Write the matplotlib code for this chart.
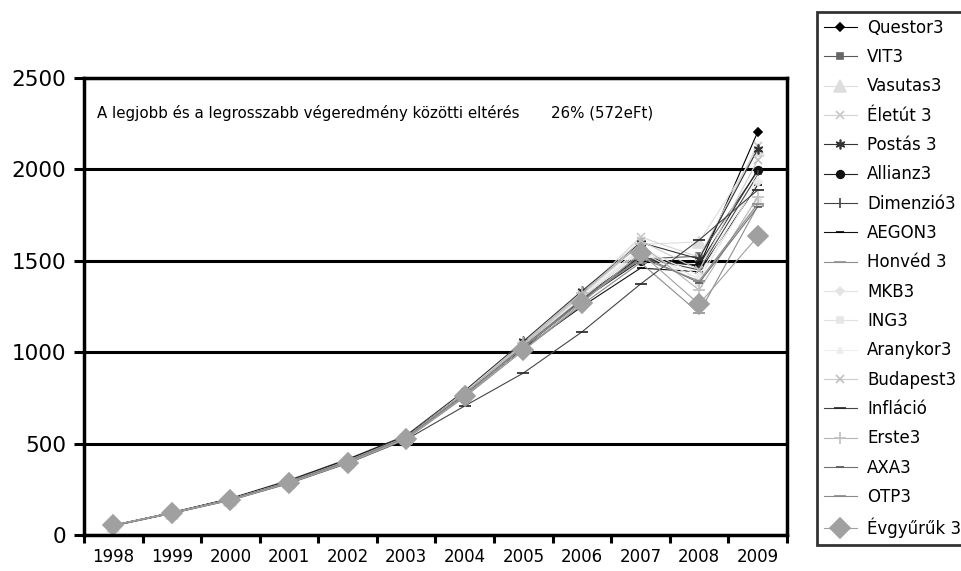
import numpy as np
import matplotlib.pyplot as plt
from matplotlib.ticker import FixedLocator, NullFormatter

years = ["1998", "1999", "2000", "2001", "2002", "2003",
         "2004", "2005", "2006", "2007", "2008", "2009"]

questor = [52, 121, 196, 290, 405, 538, 775, 1040, 1300, 1520, 1470, 2205]
vit = [53, 122, 197, 292, 408, 535, 770, 1035, 1290, 1510, 1525, 1990]
vasutas = [50, 118, 192, 288, 400, 530, 765, 1030, 1310, 1590, 1603, 2106]
eletut = [51, 120, 195, 289, 402, 533, 772, 1045, 1320, 1630, 1520, 2130]
postas = [53, 123, 200, 300, 415, 545, 790, 1060, 1335, 1600, 1510, 2111]
allianz = [52, 121, 196, 291, 406, 536, 768, 1030, 1285, 1500, 1477, 1997]
dimenzio = [52, 120, 194, 287, 400, 528, 760, 1025, 1280, 1520, 1450, 1970]
aegon = [53, 122, 198, 295, 412, 540, 775, 1020, 1250, 1460, 1440, 1915]
honved = [51, 119, 193, 286, 398, 525, 755, 1010, 1260, 1490, 1214, 1800]
mkb = [52, 121, 195, 289, 403, 532, 765, 1035, 1300, 1560, 1400, 1930]
ing = [51, 120, 194, 288, 401, 530, 762, 1030, 1295, 1550, 1380, 1820]
aranykor = [50, 119, 193, 287, 400, 529, 763, 1028, 1305, 1570, 1420, 1950]
budapest = [51, 120, 195, 290, 404, 534, 770, 1040, 1315, 1610, 1450, 2050]
inflacio = [50, 118, 190, 282, 392, 522, 706, 886, 1111, 1373, 1614, 1887]
erste = [52, 121, 196, 292, 407, 537, 778, 1050, 1325, 1590, 1340, 1850]
axa = [52, 120, 195, 289, 403, 533, 768, 1032, 1290, 1530, 1380, 1795]
otp = [51, 119, 194, 287, 401, 531, 762, 1028, 1280, 1515, 1390, 1810]
evgyuruk = [55, 120, 191, 284, 394, 525, 760, 1012, 1270, 1543, 1263, 1633]

# name, values, line colour, marker, marker colour, marker size
series = [
    ("Questor3", questor, "#000000", "D", "#000000", 4.5),
    ("VIT3", vit, "#5a5a5a", "s", "#666666", 5),
    ("Vasutas3", vasutas, "#dddddd", "^", "#dddddd", 8),
    ("Életút 3", eletut, "#d4d4d4", "x", "#c8c8c8", 6),
    ("Postás 3", postas, "#333333", (6, 2, 0), "#333333", 7),
    ("Allianz3", allianz, "#222222", "o", "#111111", 5.5),
    ("Dimenzió3", dimenzio, "#444444", "|", "#444444", 7),
    ("AEGON3", aegon, "#111111", "_", "#000000", 6),
    ("Honvéd 3", honved, "#8c8c8c", "_", "#909090", 9),
    ("MKB3", mkb, "#e2e2e2", "D", "#e4e4e4", 4),
    ("ING3", ing, "#e2e2e2", "s", "#e6e6e6", 5),
    ("Aranykor3", aranykor, "#eeeeee", "^", "#ededed", 5),
    ("Budapest3", budapest, "#cccccc", "x", "#c0c0c0", 6),
    ("Infláció", inflacio, "#444444", "_", "#222222", 8),
    ("Erste3", erste, "#b4b4b4", "+", "#c0c0c0", 9),
    ("AXA3", axa, "#707070", "_", "#555555", 6),
    ("OTP3", otp, "#8a8a8a", "_", "#888888", 8),
    ("Évgyűrűk 3", evgyuruk, "#a0a0a0", "D", "#a0a0a0", 10.5),
]

plt.rcParams["font.family"] = ["DejaVu Sans"]

fig = plt.figure(figsize=(9.62, 5.71), dpi=100)
ax = fig.add_axes([84 / 962, 1 - 535 / 571, (787 - 84) / 962, (535 - 78) / 571])

x = np.arange(len(years))
for name, vals, lc, mk, mc, ms in series:
    ax.plot(x, vals, color=lc, linewidth=0.8, marker=mk, markersize=ms,
            markerfacecolor=mc, markeredgecolor=mc, markeredgewidth=1.2,
            label=name)

ax.set_xlim(-0.5, len(years) - 0.5)
ax.set_ylim(0, 2500)
ax.set_yticks([0, 500, 1000, 1500, 2000, 2500])
ax.yaxis.grid(True, color="black", linewidth=2.2)
ax.set_axisbelow(True)

ax.set_xticks(x)
ax.set_xticklabels(years, fontsize=12)
ax.tick_params(axis="x", which="major", length=0, pad=9)
ax.xaxis.set_minor_locator(FixedLocator(np.arange(-0.5, len(years), 1.0)))
ax.xaxis.set_minor_formatter(NullFormatter())
ax.tick_params(axis="x", which="minor", length=6, width=2.2, direction="out")
ax.tick_params(axis="y", length=7, width=2.2, direction="out", labelsize=15.5, pad=6)

for sp in ax.spines.values():
    sp.set_linewidth(2.5)
    sp.set_color("black")

ty = 1 - (113 - 78) / 457
ax.text((97 - 84) / 703, ty,
        "A legjobb és a legrosszabb végeredmény közötti eltérés",
        transform=ax.transAxes, fontsize=10.8, va="center", ha="left")
ax.text((551 - 84) / 703, ty, "26% (572eFt)",
        transform=ax.transAxes, fontsize=10.8, va="center", ha="left")

leg = fig.legend(loc="upper left", bbox_to_anchor=(817 / 962, 1 - 12 / 571),
                 fontsize=12, frameon=True, fancybox=False, handlelength=2.0,
                 handletextpad=0.6, labelspacing=0.68, borderpad=0.4,
                 borderaxespad=0)
leg.get_frame().set_edgecolor("black")
leg.get_frame().set_linewidth(2)

fig.savefig("out.png", dpi=100)
